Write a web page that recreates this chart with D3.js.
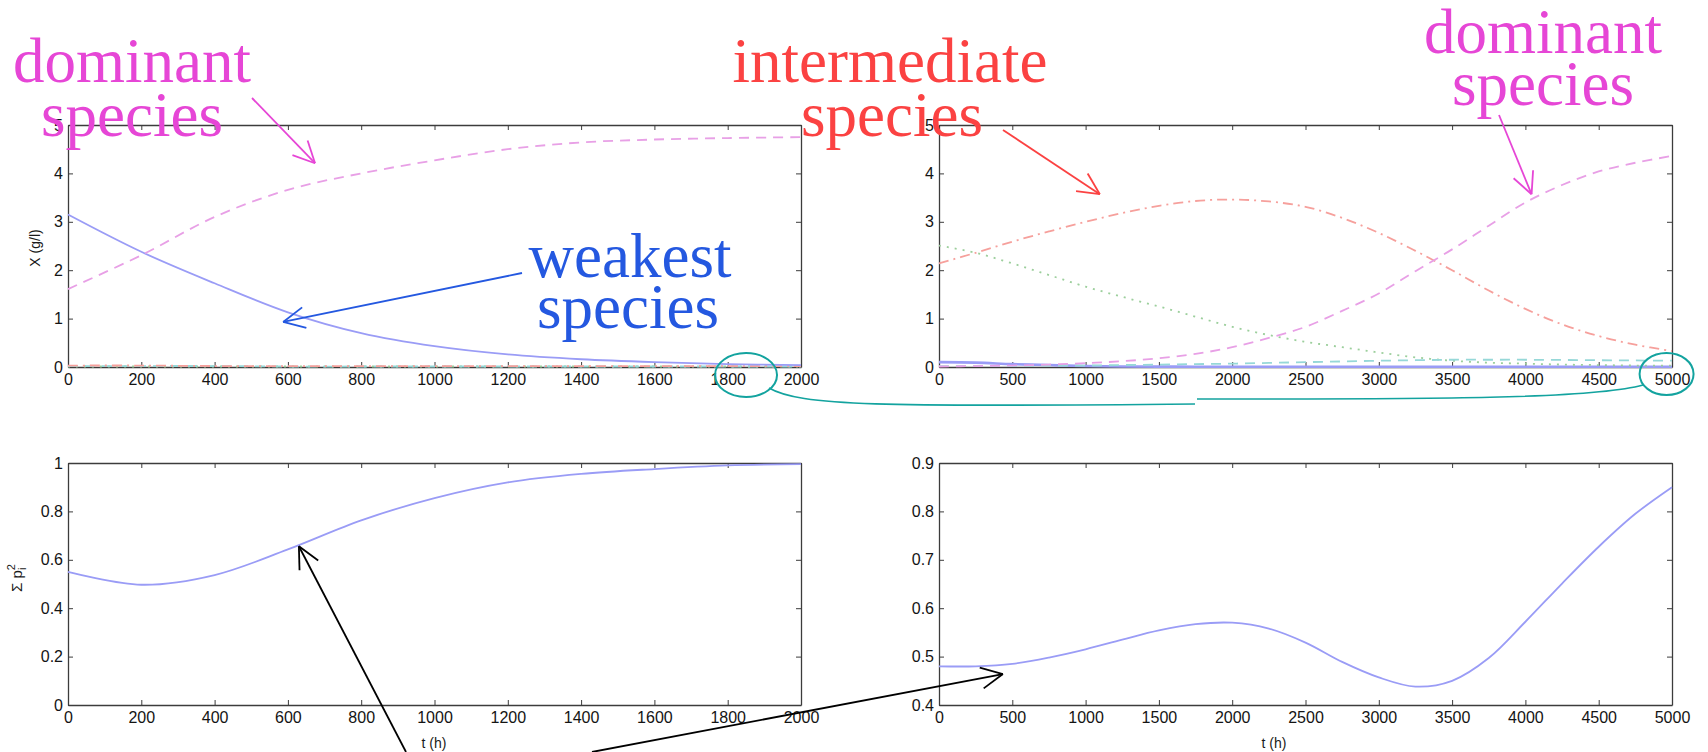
<!DOCTYPE html>
<html>
<head>
<meta charset="utf-8">
<script src="https://cdn.jsdelivr.net/npm/d3@7"></script>
<style>
  body { margin: 0; background: #fff; }
  svg { display: block; }
  .tick text { font-family: "Liberation Sans", Arial, sans-serif; fill: #141414; }
  .note { font-family: "Liberation Serif", "Times New Roman", serif; font-size: 63px; }
  .axlabel { font-family: "Liberation Sans", Arial, sans-serif; fill: #1a1a1a; }
</style>
</head>
<body>
<svg id="chart" width="1708" height="752"></svg>
<script>
// ---- time grids (h) ----
const tShort = [0, 200, 400, 600, 800, 1000, 1200, 1400, 1600, 1800, 2000];
const tLong = [0, 250, 500, 750, 1000, 1250, 1500, 1750, 2000, 2250, 2500,
               2750, 3000, 3250, 3500, 3750, 4000, 4250, 4500, 4750, 5000];

// ---- biomass X (g/l), short run ----
const weakShort   = [3.15, 2.38, 1.73, 1.13, 0.70, 0.43, 0.26, 0.16, 0.10, 0.06, 0.04];
const domShort    = [1.61, 2.31, 3.10, 3.66, 4.00, 4.27, 4.50, 4.64, 4.70, 4.73, 4.75];
const interShort  = [0.03, 0.03, 0.02, 0.02, 0.02, 0.02, 0.02, 0.02, 0.02, 0.02, 0.02];
const cyanShort   = [0.02, 0.02, 0.02, 0.01, 0.01, 0.01, 0.01, 0.01, 0.01, 0.01, 0.01];
const greenShort  = [0.01, 0.01, 0.01, 0.01, 0.01, 0.01, 0.01, 0.01, 0.01, 0.01, 0.01];

// ---- biomass X (g/l), long run ----
const weakLong  = [0.10, 0.09, 0.06, 0.04, 0.02, 0.01, 0.008, 0.006, 0.005, 0.005, 0.005,
                   0.005, 0.005, 0.005, 0.005, 0.005, 0.005, 0.005, 0.005, 0.005, 0.005];
const interLong = [2.14, 2.36, 2.59, 2.80, 3.00, 3.18, 3.33, 3.43, 3.46, 3.42, 3.31,
                   3.08, 2.77, 2.40, 2.00, 1.58, 1.20, 0.88, 0.64, 0.46, 0.33];
const domLong   = [0.01, 0.02, 0.03, 0.05, 0.08, 0.12, 0.18, 0.27, 0.41, 0.60, 0.83,
                   1.16, 1.52, 1.98, 2.43, 2.92, 3.40, 3.76, 4.04, 4.22, 4.36];
const greenLong = [2.51, 2.36, 2.14, 1.90, 1.66, 1.45, 1.25, 1.04, 0.83, 0.66, 0.52,
                   0.41, 0.30, 0.20, 0.13, 0.09, 0.07, 0.05, 0.04, 0.03, 0.03];
const cyanLong  = [0.02, 0.02, 0.02, 0.03, 0.03, 0.04, 0.05, 0.06, 0.07, 0.085, 0.10,
                   0.115, 0.13, 0.14, 0.15, 0.15, 0.15, 0.145, 0.14, 0.135, 0.13];

// ---- Simpson index  sum p_i^2 ----
const simpsonShort = [0.550, 0.497, 0.537, 0.643, 0.763, 0.855, 0.920, 0.955, 0.975, 0.990, 0.995];
const simpsonLong  = [0.480, 0.480, 0.485, 0.498, 0.515, 0.535, 0.554, 0.567, 0.570, 0.558, 0.529,
                      0.489, 0.457, 0.438, 0.450, 0.497, 0.572, 0.651, 0.727, 0.795, 0.850];

// ---- tick values and labels ----
const xTicksShort = [0, 200, 400, 600, 800, 1000, 1200, 1400, 1600, 1800, 2000];
const xLabelsShort = ["0", "200", "400", "600", "800", "1000", "1200", "1400", "1600", "1800", "2000"];
const xTicksLong = [0, 500, 1000, 1500, 2000, 2500, 3000, 3500, 4000, 4500, 5000];
const xLabelsLong = ["0", "500", "1000", "1500", "2000", "2500", "3000", "3500", "4000", "4500", "5000"];
const yTicksX = [0, 1, 2, 3, 4, 5];
const yLabelsX = ["0", "1", "2", "3", "4", "5"];
const yTicksS1 = [0, 0.2, 0.4, 0.6, 0.8, 1];
const yLabelsS1 = ["0", "0.2", "0.4", "0.6", "0.8", "1"];
const yTicksS2 = [0.4, 0.5, 0.6, 0.7, 0.8, 0.9];
const yLabelsS2 = ["0.4", "0.5", "0.6", "0.7", "0.8", "0.9"];

// ---- styles ----
const C = {
  blue: "#9a9cf6", magenta: "#e8a0e6", red: "#f6a09c", green: "#9ccf9c", cyan: "#96d8d8"
};
const DASH = { solid: null, dashed: "10,7", dashdot: "10,5,2,5", dotted: "2,6" };

const svg = d3.select("#chart");
svg.append("rect").attr("width", 1708).attr("height", 752).attr("fill", "#fff");

function makePanel(box, xDom, yDom, xt, xl, yt, yl) {
  const x = d3.scaleLinear().domain(xDom).range([box.left, box.right]);
  const y = d3.scaleLinear().domain(yDom).range([box.bottom, box.top]);
  const g = svg.append("g");
  const fs = "16px";
  const axCol = "#3c3c3c";
  const style = sel => {
    sel.selectAll("path.domain").attr("stroke", axCol).attr("stroke-width", 1.3);
    sel.selectAll(".tick line").attr("stroke", axCol).attr("stroke-width", 1);
    sel.selectAll(".tick text").style("font-size", fs);
  };
  g.append("g").attr("transform", `translate(0,${box.bottom})`)
    .call(d3.axisBottom(x).tickValues(xt).tickFormat((d, i) => xl[i]).tickSize(-5).tickSizeOuter(0).tickPadding(7))
    .call(style);
  g.append("g").attr("transform", `translate(0,${box.top})`)
    .call(d3.axisTop(x).tickValues(xt).tickFormat("").tickSize(-5).tickSizeOuter(0))
    .call(style);
  g.append("g").attr("transform", `translate(${box.left},0)`)
    .call(d3.axisLeft(y).tickValues(yt).tickFormat((d, i) => yl[i]).tickSize(-5).tickSizeOuter(0).tickPadding(5))
    .call(style);
  g.append("g").attr("transform", `translate(${box.right},0)`)
    .call(d3.axisRight(y).tickValues(yt).tickFormat("").tickSize(-5).tickSizeOuter(0))
    .call(style);
  g.selectAll(".domain").attr("fill", "none");
  return { x, y, g };
}

function drawSeries(p, t, v, color, dash, width) {
  const line = d3.line().x(d => p.x(d[0])).y(d => p.y(d[1])).curve(d3.curveCatmullRom.alpha(0.5));
  svg.append("path")
    .datum(t.map((tt, i) => [tt, v[i]]))
    .attr("d", line)
    .attr("fill", "none")
    .attr("stroke", color)
    .attr("stroke-width", width || 1.8)
    .attr("stroke-dasharray", DASH[dash]);
}

// ---- panels ----
const pTL = makePanel({ left: 68, right: 801, top: 125, bottom: 367 }, [0, 2000], [0, 5], xTicksShort, xLabelsShort, yTicksX, yLabelsX);
const pTR = makePanel({ left: 939, right: 1672, top: 125, bottom: 367 }, [0, 5000], [0, 5], xTicksLong, xLabelsLong, yTicksX, yLabelsX);
const pBL = makePanel({ left: 68, right: 801, top: 463, bottom: 705 }, [0, 2000], [0, 1], xTicksShort, xLabelsShort, yTicksS1, yLabelsS1);
const pBR = makePanel({ left: 939, right: 1672, top: 463, bottom: 705 }, [0, 5000], [0.4, 0.9], xTicksLong, xLabelsLong, yTicksS2, yLabelsS2);

// biomass, short run
drawSeries(pTL, tShort, greenShort, C.green, "dotted");
drawSeries(pTL, tShort, cyanShort, C.cyan, "dashed");
drawSeries(pTL, tShort, interShort, C.red, "dashdot");
drawSeries(pTL, tShort, weakShort, C.blue, "solid");
drawSeries(pTL, tShort, domShort, C.magenta, "dashed");

// biomass, long run
drawSeries(pTR, tLong, weakLong, C.blue, "solid", 2.6);
drawSeries(pTR, tLong, greenLong, C.green, "dotted");
drawSeries(pTR, tLong, cyanLong, C.cyan, "dashed");
drawSeries(pTR, tLong, interLong, C.red, "dashdot");
drawSeries(pTR, tLong, domLong, C.magenta, "dashed");

// Simpson index
drawSeries(pBL, tShort, simpsonShort, C.blue, "solid");
drawSeries(pBR, tLong, simpsonLong, C.blue, "solid");

// ---- axis titles ----
svg.append("text").attr("class", "axlabel")
  .attr("transform", "translate(40,248) rotate(-90)")
  .attr("text-anchor", "middle").style("font-size", "14px")
  .text("X (g/l)");

const sig = svg.append("text").attr("class", "axlabel")
  .attr("transform", "translate(22,578) rotate(-90)")
  .attr("text-anchor", "middle").style("font-size", "15px");
sig.append("tspan").text("Σ p");
sig.append("tspan").attr("dy", -7).style("font-size", "11px").text("2");
sig.append("tspan").attr("dx", -6).attr("dy", 11).style("font-size", "11px").text("i");

[434, 1274].forEach(cx => {
  svg.append("text").attr("class", "axlabel")
    .attr("x", cx).attr("y", 748).attr("text-anchor", "middle")
    .style("font-size", "14px").text("t (h)");
});

// ---- annotations ----
function arrow(x1, y1, x2, y2, color, w) {
  const g = svg.append("g").attr("stroke", color).attr("stroke-width", w || 2).attr("fill", "none");
  g.append("line").attr("x1", x1).attr("y1", y1).attr("x2", x2).attr("y2", y2);
  const a = Math.atan2(y1 - y2, x1 - x2), L = 24, h = 26 * Math.PI / 180;
  [a - h, a + h].forEach(b => {
    g.append("line").attr("x1", x2).attr("y1", y2)
      .attr("x2", x2 + L * Math.cos(b)).attr("y2", y2 + L * Math.sin(b));
  });
}
function note(lines, color) {
  lines.forEach(([txt, cx, by]) => {
    svg.append("text").attr("class", "note").attr("x", cx).attr("y", by)
      .attr("text-anchor", "middle").attr("fill", color).text(txt);
  });
}

const MAG = "#e646d6", RED = "#fb4242", BLU = "#2458e0", TEAL = "#13a39f";

note([["dominant", 132, 82], ["species", 132, 136]], MAG);
arrow(252, 98, pTL.x(674), pTL.y(4.21), MAG, 1.8);

note([["intermediate", 890, 82], ["species", 892, 136]], RED);
arrow(1003, 130, pTR.x(1097), pTR.y(3.57), RED, 1.8);

note([["dominant", 1543, 53], ["species", 1543, 105]], MAG);
arrow(1499, 115, pTR.x(4042), pTR.y(3.57), MAG, 1.8);

note([["weakest", 630, 277], ["species", 628, 328]], BLU);
arrow(522, 273, pTL.x(587), pTL.y(0.93), BLU, 1.8);

arrow(406, 752, pBL.x(630), pBL.y(0.656), "#000", 1.8);
arrow(592, 752, pBR.x(436), pBR.y(0.464), "#000", 1.8);

// circled end-of-run labels and their connector
svg.append("ellipse").attr("cx", pTL.x(1850)).attr("cy", 375).attr("rx", 31).attr("ry", 22)
  .attr("fill", "none").attr("stroke", TEAL).attr("stroke-width", 2);
svg.append("ellipse").attr("cx", pTR.x(4963)).attr("cy", 374).attr("rx", 27).attr("ry", 21)
  .attr("fill", "none").attr("stroke", TEAL).attr("stroke-width", 2);
svg.append("path")
  .attr("d", "M769,388 C800,406 880,407 1195,404 M1197,399 C1400,399 1590,400 1643,385")
  .attr("fill", "none").attr("stroke", TEAL).attr("stroke-width", 1.6);
</script>
</body>
</html>
